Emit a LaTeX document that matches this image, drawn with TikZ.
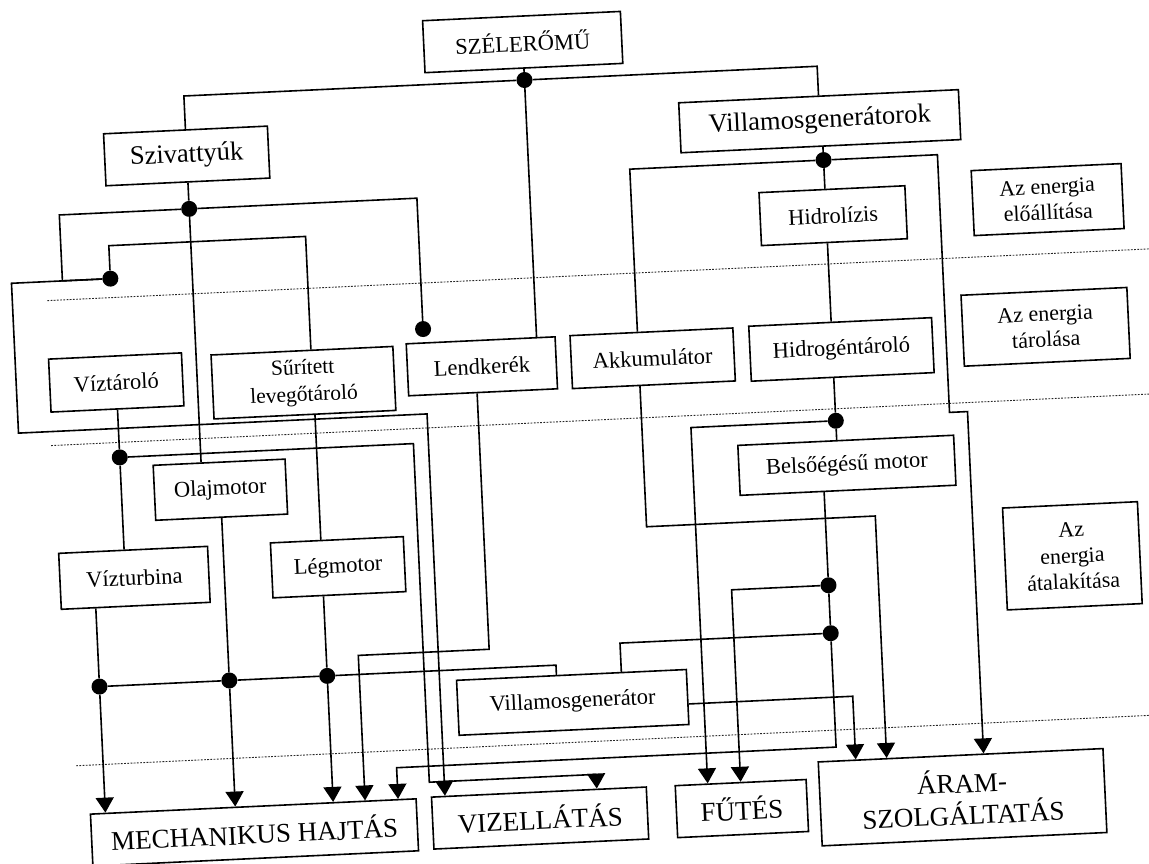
\documentclass[tikz,border=0pt]{standalone}
\usepackage{fontspec}
\setmainfont{Liberation Serif}
\usetikzlibrary{arrows.meta}
\begin{document}
\begin{tikzpicture}[x=1pt,y=-1pt,
  box/.style={draw, line width=1.6pt, inner sep=0pt, align=center, font=\fontsize{22.5}{24}\selectfont},
  bigtxt/.style={font=\fontsize{26.5}{30}\selectfont},
  hugetxt/.style={font=\fontsize{27}{32}\selectfont},
  sidetxt/.style={font=\fontsize{22}{26}\selectfont},
  dot/.style={circle, fill=black, inner sep=0pt, minimum size=16pt},
  conn/.style={line width=1.6pt},
  arr/.style={conn, -{Triangle[width=18pt,length=15pt]}},
  zone/.style={line width=0.9pt, black!85, dash pattern=on 1.8pt off 1.4pt},
  ]
\useasboundingbox (0,0) rectangle (1149,863);
\fill[white] (0,0) rectangle (1149,863);
\begin{scope}[transform canvas={rotate around={2.69:(575,431)}}]
% zone separators
\draw[zone] (54,276) -- (1170,276);
\draw[zone] (51,421) -- (1170,421);
\draw[zone] (61,742) -- (1170,742);
% boxes
\node[box, minimum width=198pt, minimum height=52pt, font=\fontsize{22.5}{26}\selectfont] (sz) at (541,40) {SZÉLERŐMŰ};
\node[box, bigtxt, minimum width=164pt, minimum height=52pt] (sziv) at (200,138) {Szivattyúk};
\node[box, bigtxt, minimum width=280pt, minimum height=50pt] (vg) at (834,133) {Villamosgenerátorok};
\node[box, minimum width=146pt, minimum height=53pt] (hidr) at (843,228) {Hidrolízis};
\node[box, minimum width=133pt, minimum height=53pt] (viz) at (119,361) {Víztároló};
\node[box, minimum width=182pt, minimum height=64pt, font=\fontsize{21.5}{27}\selectfont] (sur) at (306,370) {Sűrített\\levegőtároló};
\node[box, minimum width=149pt, minimum height=52pt] (lend) at (485,362) {Lendkerék};
\node[box, minimum width=163pt, minimum height=53pt] (akk) at (656,362) {Akkumulátor};
\node[box, minimum width=183pt, minimum height=55pt] (hidt) at (845,362) {Hidrogéntároló};
\node[box, minimum width=216pt, minimum height=50pt] (belso) at (845,478) {Belsőégésű motor};
\node[box, minimum width=132pt, minimum height=55pt] (olaj) at (218,473) {Olajmotor};
\node[box, minimum width=149pt, minimum height=56pt] (vturb) at (128,557) {Vízturbina};
\node[box, minimum width=133pt, minimum height=55pt] (legm) at (332,556) {Légmotor};
\node[box, minimum width=230pt, minimum height=55pt] (vgen) at (560,702) {Villamosgenerátor};
\node[box, hugetxt, minimum width=326pt, minimum height=52pt] (mech) at (236,817) {MECHANIKUS HAJTÁS};
\node[box, hugetxt, minimum width=215pt, minimum height=52pt] (vizell) at (522,816) {VIZELLÁTÁS};
\node[box, hugetxt, minimum width=131pt, minimum height=52pt] (futes) at (724,816) {FŰTÉS};
\node[box, hugetxt, minimum width=285pt, minimum height=84pt] (aram) at (945,815) {ÁRAM-\\SZOLGÁLTATÁS};
\node[box, sidetxt, minimum width=150pt, minimum height=65pt] (s1) at (1058,222) {Az energia\\előállítása};
\node[box, sidetxt, minimum width=166pt, minimum height=71pt] (s2) at (1050,349) {Az energia\\tárolása};
\node[box, sidetxt, minimum width=135pt, minimum height=102pt] (s3) at (1066,579) {Az\\energia\\átalakítása};
% junction dots
\node[dot] (D1) at (541,78) {};
\node[dot] (D2) at (200,191) {};
\node[dot] (D3) at (118,257) {};
\node[dot] (D4) at (428,322) {};
\node[dot] (D5) at (119,436) {};
\node[dot] (D6) at (836,172) {};
\node[dot] (D7) at (836,433) {};
\node[dot] (D8) at (821,597) {};
\node[dot] (D9) at (821,645) {};
\node[dot] (D10) at (88,664) {};
\node[dot] (D11) at (218,664) {};
\node[dot] (D12) at (316,664) {};
% connectors
\draw[conn] (sz) -- (D1);
\draw[conn] (D1) -| (sziv.north);
\draw[conn] (D1) -| (vg.north);
\draw[conn] (D1) -- (D1 |- lend.north);
\draw[conn] (sziv) -- (D2);
\draw[conn] (D2) -| (70,257) -- (D3);
\draw[conn] (D2) -| (D4);
\draw[conn] (D2) -- (D2 |- olaj.north);
\draw[conn] (D3) -- (118,224) -| ([xshift=9pt]sur.north);
\draw[arr] (D3) -- (19,257) |- (428,407) -- ([xshift=-94pt]vizell.north);
\draw[conn] (viz) -- (D5);
\draw[conn] (D5) -- (D5 |- vturb.north);
\draw[arr] (D5) -| (413,775) -| ([xshift=58pt]vizell.north);
\draw[conn] (sur.south -| D12) -- (legm.north -| D12);
\draw[conn] (vturb.south -| D10) -- (D10);
\draw[conn] (olaj.south -| D11) -- (D11);
\draw[conn] (legm.south -| D12) -- (D12);
\draw[arr] (D10) -- (D10 |- mech.north);
\draw[arr] (D11) -- (D11 |- mech.north);
\draw[arr] (D12) -- (D12 |- mech.north);
\draw[conn] (D10) -- (D11);
\draw[conn] (D11) -- (D12);
\draw[conn] (D12) -| ([xshift=-15pt]vgen.north);
\draw[arr] ([xshift=-6pt]lend.south) |- (348,645) -- ([xshift=112pt]mech.north);
\draw[conn] (vg.south -| D6) -- (D6);
\draw[conn] (D6) -- (D6 |- hidr.north);
\draw[conn] (D6) -| ([xshift=-14pt]akk.north);
\draw[arr] (D6) -| (950,430) -| ([xshift=23pt]aram.north);
\draw[conn] (hidr.south -| D6) -- (hidt.north -| D6);
\draw[conn] (hidt.south -| D7) -- (D7);
\draw[arr] (D7) -| ([xshift=-33pt]futes.north);
\draw[conn] (D7) -- (D7 |- belso.north);
\draw[conn] (belso.south -| D8) -- (D8);
\draw[conn] (D8) -- (D9);
\draw[arr] (D8) -| (futes.north);
\draw[conn] (D9) -| ([xshift=50pt]vgen.north);
\draw[arr] (D9) -- (821,759) -| ([xshift=145pt]mech.north);
\draw[arr] ([xshift=-14pt]akk.south) |- (871,530) -- ([xshift=-74pt]aram.north);
\draw[arr] ([yshift=-7pt]vgen.east) -| ([xshift=-105pt]aram.north);
\end{scope}
\end{tikzpicture}
\end{document}
